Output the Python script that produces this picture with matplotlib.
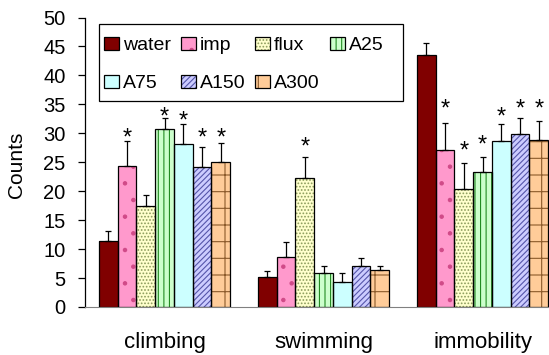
import matplotlib.pyplot as plt
from matplotlib.patches import Patch, Rectangle
import numpy as np

plt.rcParams['font.family'] = ['Liberation Sans', 'DejaVu Sans']
plt.rcParams['hatch.linewidth'] = 0.8

categories = ['climbing', 'swimming', 'immobility']
groups = ['water', 'imp', 'flux', 'A25', 'A75', 'A150', 'A300']

# mean values per group, order: climbing, swimming, immobility
water = [11.4, 5.2, 43.5]
imp = [24.4, 8.6, 27.1]
flux = [17.4, 22.2, 20.4]
a25 = [30.8, 5.9, 23.4]
a75 = [28.2, 4.4, 28.7]
a150 = [24.1, 7.0, 29.9]
a300 = [25.0, 6.4, 28.8]

# upper error bars
water_err = [1.8, 1.1, 2.1]
imp_err = [4.3, 2.6, 4.7]
flux_err = [2.0, 3.7, 4.5]
a25_err = [1.9, 1.1, 2.5]
a75_err = [3.4, 1.4, 2.9]
a150_err = [3.5, 1.5, 2.7]
a300_err = [3.3, 0.7, 3.4]

# height of the significance star (None = no star)
water_star = [None, None, None]
imp_star = [30.3, None, 35.4]
flux_star = [None, 28.8, 28.2]
a25_star = [34.0, None, 29.2]
a75_star = [33.3, None, 34.0]
a150_star = [30.3, None, 35.3]
a300_star = [30.3, None, 35.3]

values = [water, imp, flux, a25, a75, a150, a300]
errors = [water_err, imp_err, flux_err, a25_err, a75_err, a150_err, a300_err]
stars = [water_star, imp_star, flux_star, a25_star, a75_star, a150_star, a300_star]

faces = ['#800000', '#FF99CC', '#FFFFCC', '#CCFFCC', '#CCFFFF', '#CCCCFF', '#FFCC99']
hatch_cols = ['#800000', '#D04A88', '#8A9A5B', '#228B22', '#CCFFFF', '#5555AA', '#8B5A2B']
hatches = [None, '.', '.....', '|||', None, '//////', '+']

fig = plt.figure(figsize=(5.49, 3.55), dpi=100)
ax = fig.add_axes([85 / 549, 48 / 355, 464 / 549, 289.5 / 355])

x = np.arange(len(categories))
w = 0.118
handles = []
for i in range(len(groups)):
    pos = x + (i - 3) * w
    ax.bar(pos, values[i], w, color=faces[i], edgecolor=hatch_cols[i],
           hatch=hatches[i], linewidth=0, zorder=2)
    ax.bar(pos, values[i], w, fill=False, edgecolor='black', linewidth=0.9, zorder=3)
    ax.errorbar(pos, values[i], yerr=[np.zeros(3), errors[i]], fmt='none',
                ecolor='black', elinewidth=0.9, capsize=2.5, capthick=0.9, zorder=4)
    for j in range(3):
        if stars[i][j] is not None:
            ax.text(pos[j], stars[i][j] - 2.3, '*', ha='center', va='baseline',
                    fontsize=17)
    h1 = Patch(facecolor=faces[i], edgecolor=hatch_cols[i], hatch=hatches[i], linewidth=0)
    h2 = Patch(fill=False, edgecolor='black', linewidth=0.9)
    handles.append((h1, h2))

ax.set_ylim(0, 50)
ax.set_yticks(range(0, 51, 5))
ax.set_xlim(-0.5, 464 / 159 - 0.5)
ax.set_xticks(x)
ax.set_xticklabels(categories)
ax.tick_params(axis='x', length=0, labelsize=16, pad=18)
ax.tick_params(axis='y', direction='out', length=5, labelsize=14.5, width=0.9, pad=9)
ax.set_ylabel('Counts', fontsize=15)
ax.yaxis.set_label_coords((26 - 85) / 464, 0.49)
ax.spines['top'].set_visible(False)
ax.spines['right'].set_visible(False)
ax.spines['bottom'].set_color('#808080')
ax.spines['left'].set_linewidth(0.9)

# legend box drawn separately, legend itself without frame
fig.patches.append(Rectangle((99 / 549, 1 - 101 / 355), 304 / 549, 77 / 355,
                             transform=fig.transFigure, facecolor='white',
                             edgecolor='black', linewidth=0.9, zorder=5))
order = [0, 4, 1, 5, 2, 6, 3]
leg = fig.legend([handles[k] for k in order], [groups[k] for k in order],
                 ncol=4, loc='upper left', bbox_to_anchor=(104 / 549, 1 - 37 / 355),
                 borderaxespad=0, borderpad=0, fontsize=14, handlelength=0.78,
                 handleheight=0.66, handletextpad=0.2, columnspacing=0.5,
                 labelspacing=1.05, frameon=False)
leg.set_zorder(6)

fig.savefig('out.png', dpi=100)
